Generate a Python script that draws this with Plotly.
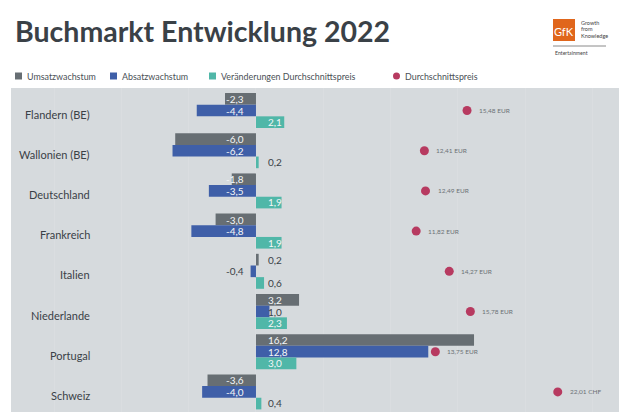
import plotly.graph_objects as go

categories = ["Flandern (BE)", "Wallonien (BE)", "Deutschland", "Frankreich", "Italien", "Niederlande", "Portugal", "Schweiz"]
umsatz = [-2.3, -6.0, -1.8, -3.0, 0.2, 3.2, 16.2, -3.6]
absatz = [-4.4, -6.2, -3.5, -4.8, -0.4, 1.0, 12.8, -4.0]
preis_delta = [2.1, 0.2, 1.9, 1.9, 0.6, 2.3, 3.0, 0.4]
# dot positions (the Portugal dot sits left of its printed value in the reference)
preis = [15.48, 12.41, 12.49, 11.82, 14.2, 15.72, 13.2, 22.01]
preis_labels = ["15,48 EUR", "12,41 EUR", "12,49 EUR", "11,82 EUR", "14,27 EUR", "15,78 EUR", "13,75 EUR", "22,01 CHF"]
dunkle_labels = {(0, 4), (1, 4), (2, 4), (2, 1), (2, 7), (1, 5)}
legend_names = ["Umsatzwachstum", "Absatzwachstum", "Veränderungen Durchschnittspreis", "Durchschnittspreis"]

GREY, BLUE, TEAL, RED = "#676e73", "#3f5fa8", "#50b7a8", "#b73a60"
BG = "#d6dadd"
INK = "#3a4147"
FONT = "Lato"
OFF = 8  # page margin of the browser
W, H, L, R, T = 622, 404, 3, 11, 80
PW = W - L - R
PH = H - T


def px(x):
    return (x - OFF - L) / PW


def py(y):
    return (H - (y - OFF)) / PH


fmt = lambda v: f"{v:.1f}".replace(".", ",")

fig = go.Figure()
for name, vals, col in zip(legend_names[:3], [umsatz, absatz, preis_delta], [GREY, BLUE, TEAL]):
    fig.add_trace(go.Bar(y=categories, x=vals, name=name, orientation="h", marker=dict(color=col, line_width=0),
                         showlegend=False))
fig.add_trace(go.Scatter(y=categories, x=preis, name=legend_names[3], mode="markers", xaxis="x2",
                         marker=dict(color=RED, size=9), showlegend=False))

ann = []
# value labels sit at a fixed distance from the zero line
for s, vals in enumerate([umsatz, absatz, preis_delta]):
    for c, v in enumerate(vals):
        ann.append(dict(x=0, y=categories[c], xref="x", yref="y", text=fmt(v), showarrow=False,
                        xanchor="right" if v < 0 else "left", xshift=-10 if v < 0 else 10, yshift=(1 - s) * 11.5,
                        yanchor="middle", font=dict(family=FONT, size=10, color=INK if (s, c) in dunkle_labels else "#f4f6f7")))
for c, (p, t) in enumerate(zip(preis, preis_labels)):
    ann.append(dict(x=p, y=categories[c], xref="x2", yref="y", text=t,
                    showarrow=False, xanchor="left", xshift=10, yanchor="middle",
                    font=dict(family=FONT, size=6.5, color="#6b7175")))
for c in categories:
    ann.append(dict(x=px(92), y=c, xref="paper", yref="y", text=c, showarrow=False, xanchor="right", yshift=-3.5,
                    yanchor="middle", font=dict(family=FONT, size=11, color=INK)))

shapes = []
legend_x = [15, 110, 209, 393]
for x0, name, col in zip(legend_x, legend_names, [GREY, BLUE, TEAL, RED]):
    shapes.append(dict(type="circle" if col == RED else "rect", xref="paper", yref="paper", x0=px(x0), x1=px(x0 + 7),
                       y0=py(79.5), y1=py(72.5), fillcolor=col, line_width=0, layer="above"))
    ann.append(dict(x=px(x0 + 10), y=py(76), xref="paper", yref="paper", text=name, showarrow=False, xanchor="left",
                    yanchor="middle", font=dict(family=FONT, size=8.9, color="#4a5056")))

# GfK logo
shapes.append(dict(type="rect", xref="paper", yref="paper", x0=px(553), x1=px(575), y0=py(41), y1=py(19),
                   fillcolor="#e0661c", line_width=0))
shapes.append(dict(type="line", xref="paper", yref="paper", x0=px(553), x1=px(606), y0=py(46), y1=py(46),
                   line=dict(color="#8a8a8a", width=1)))
ann.append(dict(x=px(564), y=py(31), xref="paper", yref="paper", text="GfK", showarrow=False, xanchor="center",
                yanchor="middle", font=dict(family=FONT, size=11, color="white")))
for y, t in zip([23, 29.5, 36], ["Growth", "from", "Knowledge"]):
    ann.append(dict(x=px(579), y=py(y), xref="paper", yref="paper", text=t, showarrow=False, xanchor="left",
                    yanchor="middle", font=dict(family=FONT, size=5.5, color="#444")))
ann.append(dict(x=px(553), y=py(53), xref="paper", yref="paper", text="Entertainment", showarrow=False, xanchor="left",
                yanchor="middle", font=dict(family=FONT, size=5.2, color="#444")))

fig.update_layout(
    width=W, height=H, margin=dict(l=L, r=R, t=T, b=0), paper_bgcolor="white", plot_bgcolor=BG,
    barmode="group", bargap=0.13, bargroupgap=0, showlegend=False,
    title=dict(text="<b>Buchmarkt Entwicklung 2022</b>", x=(15 - OFF) / W, y=1 - (32 - OFF) / H, xanchor="left",
               yanchor="middle", font=dict(family=FONT, size=28.5, color=INK)),
    xaxis=dict(range=[-18.2, 26.97], tick0=0, dtick=5, showticklabels=False, ticks="", gridcolor="#dadde0",
               gridwidth=1, zeroline=False),
    xaxis2=dict(range=[-17.35, 26.42], overlaying="x", side="top", showticklabels=False, ticks="", showgrid=False,
                zeroline=False),
    yaxis=dict(range=[7.5, -0.56], type="category", categoryorder="array", categoryarray=categories,
               showticklabels=False, ticks="", showgrid=False, zeroline=False),
    annotations=ann, shapes=shapes,
)
fig.write_html("out.html")
